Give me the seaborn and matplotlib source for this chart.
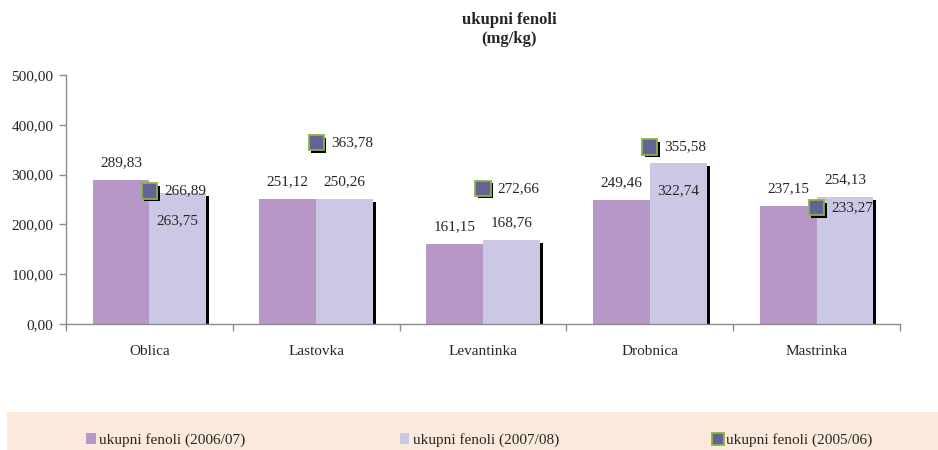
import matplotlib
matplotlib.use("Agg")
import matplotlib.pyplot as plt
import matplotlib.patheffects as pe
from matplotlib.patches import Rectangle
from matplotlib.lines import Line2D
from matplotlib.ticker import FuncFormatter, FixedLocator
import seaborn as sns
import pandas as pd

categories = ["Oblica", "Lastovka", "Levantinka", "Drobnica", "Mastrinka"]
series_0607 = [289.83, 251.12, 161.15, 249.46, 237.15]
series_0708 = [263.75, 250.26, 168.76, 322.74, 254.13]
series_0506 = [266.89, 363.78, 272.66, 355.58, 233.27]
series_names = ["ukupni fenoli (2006/07)", "ukupni fenoli (2007/08)", "ukupni fenoli (2005/06)"]
title = "ukupni fenoli\n(mg/kg)"
yticks = [0, 100, 200, 300, 400, 500]

# label placement: light-bar labels drawn inside the bar for these categories
inside_light = {"Oblica", "Drobnica"}

C_PURPLE = "#B797C7"
C_LIGHT = "#CBC8E5"
C_MARK = "#63639A"
C_MARK_EDGE = "#8CB43F"
C_AXIS = "#8C8C8C"
C_LEG_BG = "#FBEADB"

sns.set_style("white")
plt.rcParams["font.family"] = ["Liberation Serif", "DejaVu Serif"]
plt.rcParams["font.size"] = 11

def fmt(v):
    return f"{v:.2f}".replace(".", ",")

df = pd.DataFrame({
    "cat": categories * 2,
    "val": series_0607 + series_0708,
    "season": [series_names[0]] * len(categories) + [series_names[1]] * len(categories),
})

fig = plt.figure(figsize=(9.38, 4.5), dpi=100)
ax = fig.add_axes([66 / 938, 126 / 450, 834 / 938, 249 / 450])

sns.barplot(data=df, x="cat", y="val", hue="season", order=categories,
            hue_order=series_names[:2], palette=[C_PURPLE, C_LIGHT],
            width=0.68, saturation=1, errorbar=None, gap=0, ax=ax,
            linewidth=0)

leg = ax.get_legend()
handles = list(leg.legend_handles)
labels = [t.get_text() for t in leg.texts]
leg.remove()

# shadow on the light bars
for p in ax.containers[1]:
    p.set_path_effects([pe.SimplePatchShadow(offset=(2.2, -2.2), shadow_rgbFace="black", alpha=1.0), pe.Normal()])

sns.pointplot(x=categories, y=series_0506, order=categories, linestyle="none",
              marker="s", color=C_MARK, markersize=11, ax=ax, errorbar=None)
mline = ax.lines[-1]
mline.set_markerfacecolor(C_MARK)
mline.set_markeredgecolor(C_MARK_EDGE)
mline.set_markeredgewidth(1.3)
mline.set_zorder(5)
mline.set_path_effects([pe.SimplePatchShadow(offset=(1.8, -1.8), shadow_rgbFace="black", alpha=1.0), pe.Normal()])
if ax.get_legend() is not None:
    ax.get_legend().remove()

# value labels
for i, p in enumerate(ax.containers[0]):
    x = p.get_x() + p.get_width() / 2
    ax.annotate(fmt(series_0607[i]), (x, p.get_height()), xytext=(0, 12.5),
                textcoords="offset points", ha="center", va="center", fontsize=11)
for i, p in enumerate(ax.containers[1]):
    x = p.get_x() + p.get_width() / 2
    dy = -20 if categories[i] in inside_light else 12.5
    ax.annotate(fmt(series_0708[i]), (x, p.get_height()), xytext=(0, dy),
                textcoords="offset points", ha="center", va="center", fontsize=11)
xs = mline.get_xdata()
for i, v in enumerate(series_0506):
    ax.annotate(fmt(v), (xs[i], v), xytext=(10.5, 0), textcoords="offset points",
                ha="left", va="center", fontsize=11, zorder=6)

ax.set_xlim(-0.5, len(categories) - 0.5)
ax.set_ylim(0, 500)
ax.set_yticks(yticks)
ax.yaxis.set_major_formatter(FuncFormatter(lambda v, _: fmt(v)))
ax.set_xlabel("")
ax.set_ylabel("")
ax.xaxis.set_minor_locator(FixedLocator([k - 0.5 for k in range(len(categories) + 1)]))
ax.tick_params(axis="x", which="major", length=0, pad=15, labelsize=11)
ax.tick_params(axis="x", which="minor", length=5, width=1, color=C_AXIS, direction="out", bottom=True)
ax.tick_params(axis="y", length=5, width=1, color=C_AXIS, direction="out", left=True, pad=4, labelsize=11)
for s in ["top", "right"]:
    ax.spines[s].set_visible(False)
for s in ["left", "bottom"]:
    ax.spines[s].set_color(C_AXIS)
    ax.spines[s].set_linewidth(1)

fig.text(509 / 938, 1 - 29.5 / 450, title, ha="center", va="center",
         fontsize=12, fontweight="bold", linespacing=1.3)

fig.patches.append(Rectangle((7 / 938, 0), 931 / 938, 38 / 450, transform=fig.transFigure,
                             facecolor=C_LEG_BG, edgecolor="none", zorder=0))
marker_proxy = Line2D([], [], linestyle="none", marker="s", markersize=8,
                      markerfacecolor=C_MARK, markeredgecolor=C_MARK_EDGE, markeredgewidth=1.3)
handles.append(marker_proxy)
labels.append(series_names[2])
fig.legend(handles, labels, loc="center left", bbox_to_anchor=(86 / 938, 10 / 450),
           ncol=3, frameon=False, handlelength=0.65, handleheight=0.65,
           handletextpad=0.2, columnspacing=10.1, borderpad=0, borderaxespad=0,
           fontsize=11)

fig.savefig("out.png", dpi=100)
